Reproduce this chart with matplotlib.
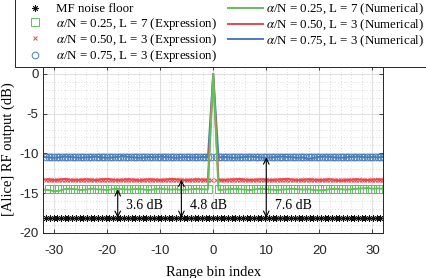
import numpy as np
import matplotlib
matplotlib.use("Agg")
import matplotlib.pyplot as plt

plt.rcParams['mathtext.fontset'] = 'stix'
plt.rcParams['axes.unicode_minus'] = False

# ---- data ----
bins_num = list(range(-32, 33))
green_num = [-14.55, -14.6, -14.75, -14.7, -14.5, -14.45, -14.5, -14.6,
             -14.55, -14.45, -14.5, -14.55, -14.6, -14.5, -14.45, -14.5,
             -14.55, -14.5, -14.45, -14.55, -14.6, -14.5, -14.45, -14.5,
             -14.55, -14.5, -14.6, -14.55, -14.5, -14.45, -14.5, -14.55,
             0.0,
             -14.6, -14.55, -14.5, -14.45, -14.5, -14.55, -14.6, -14.5,
             -14.45, -14.5, -14.55, -14.6, -14.55, -14.5, -14.45, -14.5,
             -14.55, -14.5, -14.6, -14.65, -14.6, -14.5, -14.45, -14.5,
             -14.55, -14.5, -14.45, -14.4, -14.35, -14.45, -14.4, -14.45]
red_num = [-13.3, -13.25, -13.35, -13.3, -13.2, -13.3, -13.35, -13.3,
           -13.25, -13.3, -13.35, -13.25, -13.2, -13.3, -13.35, -13.3,
           -13.25, -13.3, -13.4, -13.3, -13.25, -13.3, -13.35, -13.3,
           -13.2, -13.25, -13.3, -13.35, -13.3, -13.25, -13.3, -13.3,
           0.0,
           -13.3, -13.35, -13.3, -13.25, -13.2, -13.3, -13.35, -13.3,
           -13.25, -13.3, -13.35, -13.3, -13.25, -13.2, -13.3, -13.35,
           -13.3, -13.25, -13.3, -13.35, -13.3, -13.25, -13.35, -13.45,
           -13.35, -13.3, -13.25, -13.3, -13.35, -13.3, -13.25, -13.3]
blue_num = [-10.45, -10.5, -10.55, -10.5, -10.4, -10.45, -10.5, -10.55,
            -10.5, -10.45, -10.4, -10.5, -10.55, -10.5, -10.45, -10.35,
            -10.45, -10.5, -10.55, -10.5, -10.45, -10.5, -10.4, -10.45,
            -10.5, -10.55, -10.5, -10.45, -10.5, -10.5, -10.45, -10.5,
            0.0,
            -10.5, -10.45, -10.5, -10.55, -10.5, -10.45, -10.4, -10.45,
            -10.5, -10.55, -10.5, -10.45, -10.4, -10.45, -10.5, -10.55,
            -10.5, -10.7, -10.55, -10.45, -10.4, -10.45, -10.5, -10.55,
            -10.5, -10.45, -10.4, -10.45, -10.5, -10.45, -10.5, -10.45]

bins_half = [b / 2 for b in range(-63, 65) if b != 0]
bins_floor = [b * 0.7 for b in range(-45, 46)]
bins_sq = [b for b in range(-31, 33) if b != 0]
noise_floor = -18.1
expr_green = -14.5
expr_red = -13.3
expr_blue = -10.5

gap_x = [-18, -6, 10]
gap_top = [-14.5, -13.3, -10.5]
gap_labels = ['3.6 dB', '4.8 dB', '7.6 dB']

xticks = [-30, -20, -10, 0, 10, 20, 30]
yticks = [0, -5, -10, -15, -20]

c_green = '#63BF5C'
c_red = '#E8474B'
c_blue = '#4A7DB8'

fig = plt.figure(figsize=(4.26, 2.78), dpi=100)
ax = fig.add_axes([0.102, 0.162, 0.797, 0.601])

# grids
ax.set_xticks(xticks)
ax.set_yticks(yticks)
ax.set_xticks(np.arange(-32, 33, 2), minor=True)
ax.set_yticks(np.arange(-20, 2, 1), minor=True)
ax.grid(which='major', color='#e0e0e0', linewidth=0.8, linestyle='-')
ax.grid(which='minor', color='#d4d4d4', linewidth=0.6, linestyle=(0, (1, 2.5)))
ax.set_axisbelow(True)

h_mf, = ax.plot(bins_floor, [noise_floor] * len(bins_floor), linestyle='none',
                marker=(8, 2, 0), markersize=4.5, color='#111111', markeredgewidth=0.6,
                label='MF noise floor')
h_eg, = ax.plot(bins_sq, [expr_green] * len(bins_sq), linestyle='none', marker='s',
                markersize=5.5, markerfacecolor='none', markeredgecolor=c_green,
                markeredgewidth=0.7, label=r'$\alpha$/N = 0.25, L = 7 (Expression)')
h_er, = ax.plot(bins_half, [expr_red] * len(bins_half), linestyle='none', marker='x',
                markersize=3.5, color=c_red, markeredgewidth=0.7,
                label=r'$\alpha$/N = 0.50, L = 3 (Expression)')
h_eb, = ax.plot(bins_half, [expr_blue] * len(bins_half), linestyle='none', marker='o',
                markersize=4.8, markerfacecolor='none', markeredgecolor=c_blue,
                markeredgewidth=0.7, label=r'$\alpha$/N = 0.75, L = 3 (Expression)')
h_nb, = ax.plot(bins_num, blue_num, color=c_blue, linewidth=1.4,
                label=r'$\alpha$/N = 0.75, L = 3 (Numerical)')
h_nr, = ax.plot(bins_num, red_num, color=c_red, linewidth=1.4,
                label=r'$\alpha$/N = 0.50, L = 3 (Numerical)')
h_ng, = ax.plot(bins_num, green_num, color=c_green, linewidth=1.4,
                label=r'$\alpha$/N = 0.25, L = 7 (Numerical)')

for gx, gt, gl in zip(gap_x, gap_top, gap_labels):
    ax.annotate('', xy=(gx, gt), xytext=(gx, noise_floor),
                arrowprops=dict(arrowstyle='<->', color='black', lw=0.8,
                                shrinkA=0, shrinkB=0, mutation_scale=10))
    ax.text(gx + 1.6, -16.6, gl, fontsize=10, family='Liberation Serif',
            va='center', ha='left')

ax.set_xlim(-32, 32)
ax.set_ylim(-20, 1)
ax.tick_params(which='both', direction='in', top=True, right=True, length=3,
               labelsize=9.5, colors='#262626', width=0.6)
ax.tick_params(axis='x', pad=9)
ax.tick_params(which='minor', length=0)
for lab in ax.get_xticklabels() + ax.get_yticklabels():
    lab.set_family('Liberation Sans')
for s in ax.spines.values():
    s.set_color('#262626')
    s.set_linewidth(0.7)

ax.set_xlabel('Range bin index', fontsize=10.5, family='Liberation Serif', labelpad=6)
ax.set_ylabel('[Alice] RF output (dB)', fontsize=10.5, family='Liberation Serif', labelpad=3)

handles = [h_mf, h_eg, h_er, h_eb, h_ng, h_nr, h_nb]
leg = fig.legend(handles=handles, loc='upper left', bbox_to_anchor=(0.035, 1.003),
                 ncol=2, prop={'family': 'Liberation Serif', 'size': 9.3},
                 frameon=True, fancybox=False, edgecolor='#262626', framealpha=1,
                 borderaxespad=0, handlelength=2.7, handletextpad=0.3,
                 columnspacing=0.8, labelspacing=0.02, borderpad=0.2)
leg.get_frame().set_linewidth(0.7)

fig.savefig('out.png', dpi=100)
